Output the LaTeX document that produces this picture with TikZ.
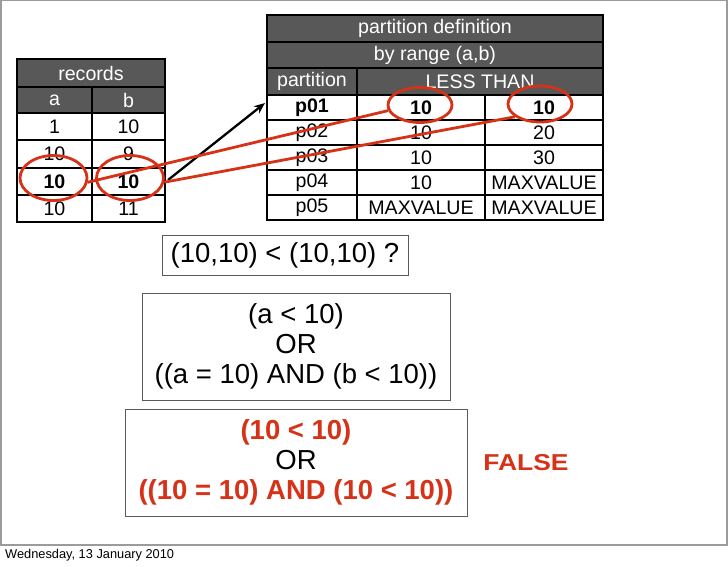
\documentclass[tikz,border=0pt]{standalone}
\usepackage{fontspec}
\usepackage{graphicx}
\setmainfont{Liberation Sans}
\usetikzlibrary{shapes.geometric,arrows.meta}
\definecolor{hdrgray}{RGB}{88,88,88}
\definecolor{framegray}{RGB}{155,155,155}
\definecolor{hlred}{RGB}{214,50,24}
\definecolor{boxgray}{RGB}{90,90,90}
\tikzset{
  tcell/.style={draw=black, line width=1.6pt, fill=white, inner sep=0pt,
    font=\fontsize{19.6}{23}\selectfont, text=black},
  thdr/.style={tcell, fill=hdrgray, text=white},
  bcell/.style={tcell, font=\fontsize{19.6}{23}\selectfont\bfseries},
  hlring/.style={ellipse, draw=hlred, line width=2.8pt, inner sep=0pt},
  hlline/.style={draw=hlred, line width=2.8pt},
  exprbox/.style={draw=boxgray, line width=1pt, inner sep=0pt, align=center,
    font=\fontsize{27.5}{30}\selectfont},
}
\begin{document}
\begin{tikzpicture}[x=1pt,y=-1pt]
\useasboundingbox (0,0) rectangle (728,567);
% slide frame
\draw[framegray, line width=1.2pt] (1,545) -- (1,0.6) -- (727,0.6) -- (727,545);
\draw[framegray, line width=2pt] (0,545) -- (728,545);
\node[anchor=west, inner sep=0pt, font=\fontsize{12.8}{14}\selectfont] (footer) at (5,555.5) {Wednesday, 13 January 2010};

% records table
\node[thdr, minimum width=148pt, minimum height=28pt] (rt) at (91,73) {records};
\node[thdr, minimum width=75pt, minimum height=26pt] (ra) at (54.5,100) {a};
\node[thdr, minimum width=73pt, minimum height=26pt] (rb) at (128.5,100) {b};
\foreach \y/\va/\vb/\st [count=\i] in {126.5/1/10/tcell, 154/10/9/tcell, 181.5/10/10/bcell, 208.5/10/11/tcell}{
  \node[\st, minimum width=75pt, minimum height=27pt] (ra\i) at (54.5,\y) {\va};
  \node[\st, minimum width=73pt, minimum height=27pt] (rb\i) at (128.5,\y) {\vb};
}

% partition table
\node[thdr, minimum width=336pt, minimum height=27pt] (pt1) at (435,28.5) {partition definition};
\node[thdr, minimum width=336pt, minimum height=26pt] (pt2) at (435,55) {by range (a,b)};
\node[thdr, minimum width=90pt, minimum height=27pt] (pp) at (312,81.5) {partition};
\node[thdr, minimum width=246pt, minimum height=27pt] (pl) at (480,81.5) {LESS THAN};
\foreach \y/\pa/\pb/\pc/\st [count=\i] in {107.5/p01/10/10/bcell, 132.5/p02/10/20/tcell, 157.5/p03/10/30/tcell, 182.5/p04/10/MAXVALUE/tcell, 207.5/p05/MAXVALUE/MAXVALUE/tcell}{
  \node[\st, minimum width=90pt, minimum height=25pt] (pa\i) at (312,\y) {\pa};
  \node[\st, minimum width=128pt, minimum height=25pt] (pb\i) at (421,\y) {\pb};
  \node[\st, minimum width=118pt, minimum height=25pt] (pc\i) at (544,\y) {\pc};
}

% black arrow
\coordinate (arrS) at (168,180);
\coordinate (arrE) at (265,103);
\draw[line width=2.3pt, -{Stealth[length=11pt,width=9pt]}] (arrS) -- (arrE);

% highlight rings
\node[hlring, minimum width=67pt, minimum height=45pt] (e1) at (53.5,178) {};
\node[hlring, minimum width=67pt, minimum height=45pt] (e2) at (130,178) {};
\node[hlring, minimum width=64pt, minimum height=35pt] (e3) at (420,105) {};
\node[hlring, minimum width=64pt, minimum height=36pt] (e4) at (540,104) {};
\draw[hlline] (e1.-7) -- (e3.190);
\draw[hlline] (e2.-7) -- (e4.207);

% expression boxes
\node[exprbox, minimum width=246pt, minimum height=40pt] (q) at (285,255) {(10,10) < (10,10) ?};
\node[exprbox, minimum width=308pt, minimum height=107pt] (cond) at (296,346.5) {(a < 10)\\OR\\((a = 10) AND (b < 10))};
\node[exprbox, minimum width=342pt, minimum height=107pt] (eval) at (296,462.5)
  {\textcolor{hlred}{\bfseries (10 < 10)}\\OR\\\textcolor{hlred}{\bfseries ((10 = 10) AND (10 < 10))}};
\node[inner sep=0pt, text=hlred, font=\fontsize{23}{26}\selectfont\bfseries] (false) at (526,463) {\scalebox{1.15}[1]{FALSE}};
\end{tikzpicture}
\end{document}
